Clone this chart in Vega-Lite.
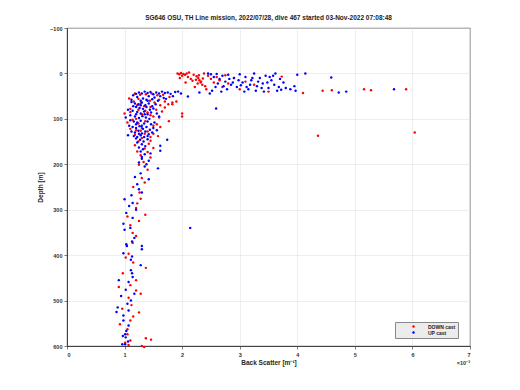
{
"$schema": "https://vega.github.io/schema/vega-lite/v6.json",
"width": 403, "height": 318,
"autosize": "none",
"padding": {"left": 67, "top": 28, "right": 50, "bottom": 44},
"background": "white",
"title": {"text": "SG646 OSU, TH Line mission, 2022/07/28, dive 467 started 03-Nov-2022 07:08:48", "font": "Liberation Sans", "fontSize": 6.5, "fontWeight": "bold", "color": "#222222", "anchor": "middle", "offset": 5},
"config": {
  "view": {"stroke": "#262626", "strokeWidth": 0.8},
  "axis": {"grid": true, "gridColor": "#e3e3e3", "gridWidth": 0.6, "domainColor": "#262626", "domainWidth": 0.8, "tickColor": "#262626", "tickWidth": 0.6, "tickSize": 3, "labelFont": "Liberation Sans", "labelFontSize": 5.5, "labelFontWeight": "bold", "labelColor": "#333333", "titleFont": "Liberation Sans", "titleFontSize": 6.5, "titleFontWeight": "bold", "titleColor": "#262626"}
},
"layer": [
{
"data": {"values": [
{"bs":1.92,"depth":0,"cast":"DOWN cast"},{"bs":1.95,"depth":2,"cast":"DOWN cast"},{"bs":1.98,"depth":-1,"cast":"DOWN cast"},{"bs":2.02,"depth":1,"cast":"DOWN cast"},{"bs":2.05,"depth":3,"cast":"DOWN cast"},{"bs":2.08,"depth":0,"cast":"DOWN cast"},{"bs":2.0,"depth":5,"cast":"DOWN cast"},{"bs":2.1,"depth":8,"cast":"DOWN cast"},{"bs":2.15,"depth":12,"cast":"DOWN cast"},{"bs":2.2,"depth":3,"cast":"DOWN cast"},{"bs":2.25,"depth":6,"cast":"DOWN cast"},{"bs":2.28,"depth":10,"cast":"DOWN cast"},{"bs":2.3,"depth":15,"cast":"DOWN cast"},{"bs":2.32,"depth":20,"cast":"DOWN cast"},{"bs":2.35,"depth":25,"cast":"DOWN cast"},{"bs":2.27,"depth":22,"cast":"DOWN cast"},{"bs":2.33,"depth":18,"cast":"DOWN cast"},{"bs":2.4,"depth":28,"cast":"DOWN cast"},{"bs":2.22,"depth":30,"cast":"DOWN cast"},{"bs":2.18,"depth":16,"cast":"DOWN cast"},{"bs":2.45,"depth":5,"cast":"DOWN cast"},{"bs":2.5,"depth":12,"cast":"DOWN cast"},{"bs":2.55,"depth":20,"cast":"DOWN cast"},{"bs":2.6,"depth":8,"cast":"DOWN cast"},{"bs":2.65,"depth":15,"cast":"DOWN cast"},{"bs":2.7,"depth":30,"cast":"DOWN cast"},{"bs":2.75,"depth":4,"cast":"DOWN cast"},{"bs":2.8,"depth":22,"cast":"DOWN cast"},{"bs":2.9,"depth":10,"cast":"DOWN cast"},{"bs":3.0,"depth":35,"cast":"DOWN cast"},{"bs":3.1,"depth":18,"cast":"DOWN cast"},{"bs":3.25,"depth":25,"cast":"DOWN cast"},{"bs":3.5,"depth":40,"cast":"DOWN cast"},{"bs":3.73,"depth":7,"cast":"DOWN cast"},{"bs":4.1,"depth":43,"cast":"DOWN cast"},{"bs":4.44,"depth":38,"cast":"DOWN cast"},{"bs":4.6,"depth":37,"cast":"DOWN cast"},{"bs":5.16,"depth":35,"cast":"DOWN cast"},{"bs":5.28,"depth":37,"cast":"DOWN cast"},{"bs":5.89,"depth":35,"cast":"DOWN cast"},{"bs":2.12,"depth":-2,"cast":"DOWN cast"},{"bs":2.06,"depth":20,"cast":"DOWN cast"},{"bs":2.38,"depth":0,"cast":"DOWN cast"},{"bs":2.42,"depth":35,"cast":"DOWN cast"},{"bs":2.24,"depth":14,"cast":"DOWN cast"},{"bs":2.29,"depth":4,"cast":"DOWN cast"},{"bs":2.36,"depth":11,"cast":"DOWN cast"},{"bs":1.96,"depth":10,"cast":"DOWN cast"},
{"bs":4.36,"depth":137,"cast":"DOWN cast"},{"bs":6.04,"depth":130,"cast":"DOWN cast"},{"bs":2.0,"depth":88,"cast":"DOWN cast"},{"bs":2.0,"depth":95,"cast":"DOWN cast"},{"bs":1.83,"depth":64,"cast":"DOWN cast"},{"bs":1.83,"depth":68,"cast":"DOWN cast"},
{"bs":1.18,"depth":44,"cast":"DOWN cast"},{"bs":1.27,"depth":47,"cast":"DOWN cast"},{"bs":1.37,"depth":46,"cast":"DOWN cast"},{"bs":1.47,"depth":44,"cast":"DOWN cast"},{"bs":1.57,"depth":48,"cast":"DOWN cast"},{"bs":1.67,"depth":47,"cast":"DOWN cast"},{"bs":1.78,"depth":52,"cast":"DOWN cast"},{"bs":1.24,"depth":56,"cast":"DOWN cast"},{"bs":1.44,"depth":60,"cast":"DOWN cast"},{"bs":1.6,"depth":58,"cast":"DOWN cast"},{"bs":1.7,"depth":62,"cast":"DOWN cast"},{"bs":1.08,"depth":55,"cast":"DOWN cast"},{"bs":1.76,"depth":68,"cast":"DOWN cast"},{"bs":1.9,"depth":62,"cast":"DOWN cast"},
{"bs":1.16,"depth":62,"cast":"DOWN cast"},{"bs":1.22,"depth":70,"cast":"DOWN cast"},{"bs":1.34,"depth":72,"cast":"DOWN cast"},{"bs":1.45,"depth":74,"cast":"DOWN cast"},{"bs":1.52,"depth":64,"cast":"DOWN cast"},{"bs":1.62,"depth":70,"cast":"DOWN cast"},{"bs":1.1,"depth":78,"cast":"DOWN cast"},{"bs":1.24,"depth":80,"cast":"DOWN cast"},{"bs":1.36,"depth":82,"cast":"DOWN cast"},{"bs":1.6,"depth":97,"cast":"DOWN cast"},{"bs":1.55,"depth":80,"cast":"DOWN cast"},{"bs":1.1,"depth":85,"cast":"DOWN cast"},{"bs":1.3,"depth":90,"cast":"DOWN cast"},{"bs":1.45,"depth":92,"cast":"DOWN cast"},{"bs":1.0,"depth":88,"cast":"DOWN cast"},{"bs":1.2,"depth":100,"cast":"DOWN cast"},{"bs":1.65,"depth":84,"cast":"DOWN cast"},{"bs":1.77,"depth":105,"cast":"DOWN cast"},{"bs":1.7,"depth":75,"cast":"DOWN cast"},{"bs":1.5,"depth":95,"cast":"DOWN cast"},{"bs":1.28,"depth":66,"cast":"DOWN cast"},{"bs":1.4,"depth":86,"cast":"DOWN cast"},
{"bs":1.14,"depth":102,"cast":"DOWN cast"},{"bs":1.24,"depth":110,"cast":"DOWN cast"},{"bs":1.36,"depth":105,"cast":"DOWN cast"},{"bs":1.5,"depth":115,"cast":"DOWN cast"},{"bs":1.56,"depth":112,"cast":"DOWN cast"},{"bs":1.1,"depth":122,"cast":"DOWN cast"},{"bs":1.2,"depth":125,"cast":"DOWN cast"},{"bs":1.3,"depth":120,"cast":"DOWN cast"},{"bs":1.4,"depth":128,"cast":"DOWN cast"},{"bs":1.5,"depth":133,"cast":"DOWN cast"},{"bs":1.58,"depth":138,"cast":"DOWN cast"},{"bs":1.18,"depth":135,"cast":"DOWN cast"},{"bs":1.35,"depth":133,"cast":"DOWN cast"},{"bs":1.45,"depth":140,"cast":"DOWN cast"},{"bs":1.05,"depth":108,"cast":"DOWN cast"},{"bs":1.62,"depth":118,"cast":"DOWN cast"},{"bs":1.28,"depth":126,"cast":"DOWN cast"},
{"bs":1.3,"depth":142,"cast":"DOWN cast"},{"bs":1.45,"depth":148,"cast":"DOWN cast"},{"bs":1.24,"depth":150,"cast":"DOWN cast"},{"bs":1.42,"depth":155,"cast":"DOWN cast"},{"bs":1.18,"depth":158,"cast":"DOWN cast"},{"bs":1.35,"depth":165,"cast":"DOWN cast"},{"bs":1.4,"depth":173,"cast":"DOWN cast"},{"bs":1.28,"depth":180,"cast":"DOWN cast"},{"bs":1.45,"depth":185,"cast":"DOWN cast"},{"bs":1.33,"depth":195,"cast":"DOWN cast"},{"bs":1.22,"depth":172,"cast":"DOWN cast"},{"bs":1.5,"depth":164,"cast":"DOWN cast"},
{"bs":1.25,"depth":201,"cast":"DOWN cast"},{"bs":1.35,"depth":240,"cast":"DOWN cast"},{"bs":1.26,"depth":262,"cast":"DOWN cast"},{"bs":1.28,"depth":276,"cast":"DOWN cast"},{"bs":1.2,"depth":296,"cast":"DOWN cast"},{"bs":1.36,"depth":311,"cast":"DOWN cast"},{"bs":1.25,"depth":325,"cast":"DOWN cast"},{"bs":1.1,"depth":334,"cast":"DOWN cast"},{"bs":1.14,"depth":351,"cast":"DOWN cast"},{"bs":1.2,"depth":358,"cast":"DOWN cast"},{"bs":1.14,"depth":373,"cast":"DOWN cast"},{"bs":1.4,"depth":212,"cast":"DOWN cast"},{"bs":1.3,"depth":230,"cast":"DOWN cast"},{"bs":1.15,"depth":250,"cast":"DOWN cast"},{"bs":1.22,"depth":286,"cast":"DOWN cast"},{"bs":1.05,"depth":315,"cast":"DOWN cast"},
{"bs":1.07,"depth":397,"cast":"DOWN cast"},{"bs":1.15,"depth":416,"cast":"DOWN cast"},{"bs":1.37,"depth":428,"cast":"DOWN cast"},{"bs":0.97,"depth":440,"cast":"DOWN cast"},{"bs":1.2,"depth":455,"cast":"DOWN cast"},{"bs":1.1,"depth":466,"cast":"DOWN cast"},{"bs":1.2,"depth":478,"cast":"DOWN cast"},{"bs":1.28,"depth":485,"cast":"DOWN cast"},{"bs":1.07,"depth":494,"cast":"DOWN cast"},{"bs":0.96,"depth":518,"cast":"DOWN cast"},{"bs":1.25,"depth":526,"cast":"DOWN cast"},{"bs":1.15,"depth":535,"cast":"DOWN cast"},{"bs":1.1,"depth":544,"cast":"DOWN cast"},{"bs":1.05,"depth":563,"cast":"DOWN cast"},{"bs":1.05,"depth":574,"cast":"DOWN cast"},{"bs":1.46,"depth":586,"cast":"DOWN cast"},{"bs":1.1,"depth":588,"cast":"DOWN cast"},{"bs":1.07,"depth":598,"cast":"DOWN cast"},{"bs":1.34,"depth":602,"cast":"DOWN cast"},{"bs":1.01,"depth":593,"cast":"DOWN cast"},{"bs":1.3,"depth":600,"cast":"DOWN cast"},{"bs":1.37,"depth":583,"cast":"DOWN cast"},{"bs":1.02,"depth":405,"cast":"DOWN cast"},{"bs":0.9,"depth":470,"cast":"DOWN cast"},{"bs":1.12,"depth":510,"cast":"DOWN cast"},{"bs":0.92,"depth":552,"cast":"DOWN cast"},
{"bs":2.45,"depth":0,"cast":"UP cast"},{"bs":2.5,"depth":2,"cast":"UP cast"},{"bs":2.55,"depth":8,"cast":"UP cast"},{"bs":2.6,"depth":1,"cast":"UP cast"},{"bs":2.65,"depth":12,"cast":"UP cast"},{"bs":2.7,"depth":5,"cast":"UP cast"},{"bs":2.75,"depth":18,"cast":"UP cast"},{"bs":2.8,"depth":3,"cast":"UP cast"},{"bs":2.85,"depth":25,"cast":"UP cast"},{"bs":2.9,"depth":10,"cast":"UP cast"},{"bs":2.95,"depth":30,"cast":"UP cast"},{"bs":3.0,"depth":2,"cast":"UP cast"},{"bs":3.05,"depth":20,"cast":"UP cast"},{"bs":3.1,"depth":8,"cast":"UP cast"},{"bs":3.15,"depth":35,"cast":"UP cast"},{"bs":3.2,"depth":15,"cast":"UP cast"},{"bs":3.25,"depth":0,"cast":"UP cast"},{"bs":3.3,"depth":28,"cast":"UP cast"},{"bs":3.35,"depth":10,"cast":"UP cast"},{"bs":3.4,"depth":22,"cast":"UP cast"},{"bs":3.45,"depth":5,"cast":"UP cast"},{"bs":3.5,"depth":32,"cast":"UP cast"},{"bs":3.55,"depth":15,"cast":"UP cast"},{"bs":3.6,"depth":25,"cast":"UP cast"},{"bs":3.65,"depth":38,"cast":"UP cast"},{"bs":3.7,"depth":12,"cast":"UP cast"},{"bs":3.76,"depth":20,"cast":"UP cast"},{"bs":3.8,"depth":32,"cast":"UP cast"},{"bs":3.95,"depth":28,"cast":"UP cast"},{"bs":3.97,"depth":38,"cast":"UP cast"},{"bs":4.0,"depth":3,"cast":"UP cast"},{"bs":4.14,"depth":0,"cast":"UP cast"},{"bs":4.59,"depth":9,"cast":"UP cast"},{"bs":4.72,"depth":42,"cast":"UP cast"},{"bs":4.85,"depth":40,"cast":"UP cast"},{"bs":5.68,"depth":35,"cast":"UP cast"},{"bs":2.52,"depth":38,"cast":"UP cast"},{"bs":2.58,"depth":30,"cast":"UP cast"},{"bs":2.68,"depth":40,"cast":"UP cast"},{"bs":2.78,"depth":35,"cast":"UP cast"},{"bs":2.88,"depth":20,"cast":"UP cast"},{"bs":2.98,"depth":15,"cast":"UP cast"},{"bs":3.08,"depth":40,"cast":"UP cast"},{"bs":3.18,"depth":25,"cast":"UP cast"},{"bs":3.28,"depth":38,"cast":"UP cast"},{"bs":3.38,"depth":32,"cast":"UP cast"},{"bs":3.48,"depth":20,"cast":"UP cast"},{"bs":3.58,"depth":5,"cast":"UP cast"},{"bs":3.68,"depth":30,"cast":"UP cast"},{"bs":3.12,"depth":30,"cast":"UP cast"},{"bs":3.22,"depth":10,"cast":"UP cast"},{"bs":3.42,"depth":40,"cast":"UP cast"},{"bs":3.62,"depth":0,"cast":"UP cast"},{"bs":2.72,"depth":28,"cast":"UP cast"},{"bs":2.62,"depth":22,"cast":"UP cast"},{"bs":2.82,"depth":12,"cast":"UP cast"},{"bs":3.02,"depth":26,"cast":"UP cast"},{"bs":3.32,"depth":18,"cast":"UP cast"},{"bs":3.52,"depth":8,"cast":"UP cast"},{"bs":3.72,"depth":36,"cast":"UP cast"},{"bs":3.88,"depth":35,"cast":"UP cast"},{"bs":2.59,"depth":77,"cast":"UP cast"},{"bs":2.1,"depth":51,"cast":"UP cast"},{"bs":2.48,"depth":44,"cast":"UP cast"},{"bs":2.3,"depth":42,"cast":"UP cast"},{"bs":2.14,"depth":340,"cast":"UP cast"},
{"bs":1.15,"depth":48,"cast":"UP cast"},{"bs":1.2,"depth":45,"cast":"UP cast"},{"bs":1.25,"depth":42,"cast":"UP cast"},{"bs":1.3,"depth":44,"cast":"UP cast"},{"bs":1.35,"depth":40,"cast":"UP cast"},{"bs":1.4,"depth":43,"cast":"UP cast"},{"bs":1.45,"depth":41,"cast":"UP cast"},{"bs":1.5,"depth":46,"cast":"UP cast"},{"bs":1.55,"depth":42,"cast":"UP cast"},{"bs":1.6,"depth":44,"cast":"UP cast"},{"bs":1.65,"depth":40,"cast":"UP cast"},{"bs":1.7,"depth":43,"cast":"UP cast"},{"bs":1.75,"depth":42,"cast":"UP cast"},{"bs":1.8,"depth":45,"cast":"UP cast"},{"bs":1.88,"depth":41,"cast":"UP cast"},{"bs":1.93,"depth":40,"cast":"UP cast"},{"bs":1.98,"depth":44,"cast":"UP cast"},{"bs":1.22,"depth":52,"cast":"UP cast"},{"bs":1.32,"depth":55,"cast":"UP cast"},{"bs":1.42,"depth":50,"cast":"UP cast"},{"bs":1.52,"depth":53,"cast":"UP cast"},{"bs":1.62,"depth":50,"cast":"UP cast"},{"bs":1.72,"depth":56,"cast":"UP cast"},{"bs":1.12,"depth":58,"cast":"UP cast"},{"bs":1.28,"depth":60,"cast":"UP cast"},{"bs":1.38,"depth":58,"cast":"UP cast"},{"bs":1.48,"depth":57,"cast":"UP cast"},{"bs":1.58,"depth":60,"cast":"UP cast"},{"bs":1.68,"depth":54,"cast":"UP cast"},{"bs":1.84,"depth":50,"cast":"UP cast"},
{"bs":1.12,"depth":63,"cast":"UP cast"},{"bs":1.18,"depth":66,"cast":"UP cast"},{"bs":1.24,"depth":68,"cast":"UP cast"},{"bs":1.3,"depth":64,"cast":"UP cast"},{"bs":1.36,"depth":70,"cast":"UP cast"},{"bs":1.42,"depth":66,"cast":"UP cast"},{"bs":1.48,"depth":72,"cast":"UP cast"},{"bs":1.54,"depth":68,"cast":"UP cast"},{"bs":1.2,"depth":74,"cast":"UP cast"},{"bs":1.26,"depth":76,"cast":"UP cast"},{"bs":1.32,"depth":78,"cast":"UP cast"},{"bs":1.38,"depth":74,"cast":"UP cast"},{"bs":1.44,"depth":80,"cast":"UP cast"},{"bs":1.5,"depth":77,"cast":"UP cast"},{"bs":1.06,"depth":80,"cast":"UP cast"},{"bs":1.14,"depth":82,"cast":"UP cast"},{"bs":1.22,"depth":85,"cast":"UP cast"},{"bs":1.28,"depth":88,"cast":"UP cast"},{"bs":1.34,"depth":84,"cast":"UP cast"},{"bs":1.4,"depth":90,"cast":"UP cast"},{"bs":1.46,"depth":86,"cast":"UP cast"},{"bs":1.56,"depth":88,"cast":"UP cast"},{"bs":1.1,"depth":92,"cast":"UP cast"},{"bs":1.18,"depth":95,"cast":"UP cast"},{"bs":1.25,"depth":98,"cast":"UP cast"},{"bs":1.31,"depth":94,"cast":"UP cast"},{"bs":1.37,"depth":97,"cast":"UP cast"},{"bs":1.43,"depth":100,"cast":"UP cast"},{"bs":1.6,"depth":95,"cast":"UP cast"},{"bs":1.02,"depth":97,"cast":"UP cast"},{"bs":1.15,"depth":72,"cast":"UP cast"},{"bs":1.4,"depth":60,"cast":"UP cast"},{"bs":1.28,"depth":70,"cast":"UP cast"},{"bs":1.35,"depth":90,"cast":"UP cast"},{"bs":1.2,"depth":90,"cast":"UP cast"},
{"bs":1.1,"depth":103,"cast":"UP cast"},{"bs":1.16,"depth":106,"cast":"UP cast"},{"bs":1.22,"depth":108,"cast":"UP cast"},{"bs":1.28,"depth":104,"cast":"UP cast"},{"bs":1.34,"depth":110,"cast":"UP cast"},{"bs":1.4,"depth":106,"cast":"UP cast"},{"bs":1.46,"depth":112,"cast":"UP cast"},{"bs":1.52,"depth":108,"cast":"UP cast"},{"bs":1.08,"depth":115,"cast":"UP cast"},{"bs":1.14,"depth":118,"cast":"UP cast"},{"bs":1.2,"depth":120,"cast":"UP cast"},{"bs":1.26,"depth":116,"cast":"UP cast"},{"bs":1.32,"depth":122,"cast":"UP cast"},{"bs":1.38,"depth":118,"cast":"UP cast"},{"bs":1.44,"depth":124,"cast":"UP cast"},{"bs":1.5,"depth":120,"cast":"UP cast"},{"bs":1.12,"depth":128,"cast":"UP cast"},{"bs":1.18,"depth":130,"cast":"UP cast"},{"bs":1.24,"depth":126,"cast":"UP cast"},{"bs":1.3,"depth":132,"cast":"UP cast"},{"bs":1.36,"depth":128,"cast":"UP cast"},{"bs":1.42,"depth":134,"cast":"UP cast"},{"bs":1.48,"depth":130,"cast":"UP cast"},{"bs":1.06,"depth":136,"cast":"UP cast"},{"bs":1.16,"depth":138,"cast":"UP cast"},{"bs":1.22,"depth":140,"cast":"UP cast"},{"bs":1.28,"depth":136,"cast":"UP cast"},{"bs":1.34,"depth":140,"cast":"UP cast"},{"bs":1.4,"depth":138,"cast":"UP cast"},{"bs":1.56,"depth":125,"cast":"UP cast"},{"bs":1.2,"depth":112,"cast":"UP cast"},{"bs":1.3,"depth":115,"cast":"UP cast"},{"bs":1.25,"depth":133,"cast":"UP cast"},
{"bs":1.2,"depth":143,"cast":"UP cast"},{"bs":1.27,"depth":146,"cast":"UP cast"},{"bs":1.33,"depth":150,"cast":"UP cast"},{"bs":1.4,"depth":145,"cast":"UP cast"},{"bs":1.74,"depth":146,"cast":"UP cast"},{"bs":1.22,"depth":152,"cast":"UP cast"},{"bs":1.3,"depth":156,"cast":"UP cast"},{"bs":1.36,"depth":160,"cast":"UP cast"},{"bs":1.62,"depth":159,"cast":"UP cast"},{"bs":1.25,"depth":163,"cast":"UP cast"},{"bs":1.32,"depth":167,"cast":"UP cast"},{"bs":1.28,"depth":172,"cast":"UP cast"},{"bs":1.62,"depth":170,"cast":"UP cast"},{"bs":1.35,"depth":178,"cast":"UP cast"},{"bs":1.3,"depth":184,"cast":"UP cast"},{"bs":1.3,"depth":188,"cast":"UP cast"},{"bs":1.42,"depth":192,"cast":"UP cast"},{"bs":1.25,"depth":196,"cast":"UP cast"},{"bs":1.38,"depth":200,"cast":"UP cast"},{"bs":1.45,"depth":176,"cast":"UP cast"},
{"bs":1.58,"depth":209,"cast":"UP cast"},{"bs":1.28,"depth":220,"cast":"UP cast"},{"bs":1.42,"depth":233,"cast":"UP cast"},{"bs":1.22,"depth":244,"cast":"UP cast"},{"bs":1.3,"depth":262,"cast":"UP cast"},{"bs":1.0,"depth":277,"cast":"UP cast"},{"bs":1.14,"depth":285,"cast":"UP cast"},{"bs":1.2,"depth":300,"cast":"UP cast"},{"bs":1.03,"depth":307,"cast":"UP cast"},{"bs":1.14,"depth":318,"cast":"UP cast"},{"bs":0.98,"depth":331,"cast":"UP cast"},{"bs":1.0,"depth":344,"cast":"UP cast"},{"bs":1.17,"depth":362,"cast":"UP cast"},{"bs":1.03,"depth":376,"cast":"UP cast"},{"bs":1.3,"depth":380,"cast":"UP cast"},{"bs":1.35,"depth":205,"cast":"UP cast"},{"bs":1.18,"depth":228,"cast":"UP cast"},{"bs":1.25,"depth":255,"cast":"UP cast"},{"bs":1.12,"depth":268,"cast":"UP cast"},{"bs":1.08,"depth":292,"cast":"UP cast"},{"bs":1.1,"depth":340,"cast":"UP cast"},
{"bs":1.04,"depth":380,"cast":"UP cast"},{"bs":1.13,"depth":370,"cast":"UP cast"},{"bs":1.3,"depth":387,"cast":"UP cast"},{"bs":0.98,"depth":396,"cast":"UP cast"},{"bs":1.13,"depth":403,"cast":"UP cast"},{"bs":1.11,"depth":410,"cast":"UP cast"},{"bs":1.28,"depth":422,"cast":"UP cast"},{"bs":1.11,"depth":433,"cast":"UP cast"},{"bs":1.13,"depth":440,"cast":"UP cast"},{"bs":1.14,"depth":448,"cast":"UP cast"},{"bs":1.07,"depth":459,"cast":"UP cast"},{"bs":1.02,"depth":476,"cast":"UP cast"},{"bs":1.17,"depth":485,"cast":"UP cast"},{"bs":1.11,"depth":500,"cast":"UP cast"},{"bs":1.05,"depth":507,"cast":"UP cast"},{"bs":1.07,"depth":522,"cast":"UP cast"},{"bs":0.98,"depth":533,"cast":"UP cast"},{"bs":0.98,"depth":544,"cast":"UP cast"},{"bs":1.07,"depth":555,"cast":"UP cast"},{"bs":1.03,"depth":567,"cast":"UP cast"},{"bs":1.01,"depth":574,"cast":"UP cast"},{"bs":1.02,"depth":581,"cast":"UP cast"},{"bs":1.06,"depth":590,"cast":"UP cast"},{"bs":1.01,"depth":596,"cast":"UP cast"},{"bs":0.96,"depth":596,"cast":"UP cast"},{"bs":0.97,"depth":578,"cast":"UP cast"},{"bs":0.88,"depth":515,"cast":"UP cast"},{"bs":0.86,"depth":525,"cast":"UP cast"},{"bs":0.9,"depth":455,"cast":"UP cast"},{"bs":0.94,"depth":490,"cast":"UP cast"}
]},
"mark": {"type": "point", "filled": true, "shape": "circle", "size": 6, "opacity": 1},
"encoding": {
  "x": {"field": "bs", "type": "quantitative", "scale": {"domain": [0, 7], "nice": false, "zero": false}, "axis": {"values": [0,1,2,3,4,5,6,7], "format": "d", "title": "Back Scatter [m⁻¹]", "labelPadding": 3, "titlePadding": 2}},
  "y": {"field": "depth", "type": "quantitative", "scale": {"domain": [-100, 600], "reverse": true, "nice": false, "zero": false}, "axis": {"values": [-100,0,100,200,300,400,500,600], "format": "d", "title": "Depth [m]", "labelPadding": 2, "titlePadding": 6}},
  "color": {"field": "cast", "type": "nominal", "scale": {"domain": ["DOWN cast", "UP cast"], "range": ["#ff0000", "#0000ff"]}, "legend": {"title": null, "orient": "none", "legendX": 328, "legendY": 294, "fillColor": "#ececec", "strokeColor": "#888888", "padding": 2, "symbolSize": 6, "symbolOffset": 14, "labelOffset": 12, "labelFont": "Liberation Sans", "labelFontSize": 5, "labelFontWeight": "bold", "labelColor": "#222222", "rowPadding": 0, "labelExpr": "datum.label + '\u00a0\u00a0\u00a0\u00a0\u00a0\u00a0\u00a0\u00a0'"}}
}
},
{
"data": {"values": [{"note": "exponent"}]},
"mark": {"type": "text", "text": "×10⁻³", "align": "right", "baseline": "middle", "dy": 17, "font": "Liberation Sans", "fontSize": 5.5, "fontWeight": "bold", "color": "#333333"},
"encoding": {"x": {"datum": 7}, "y": {"datum": 600}}
}
]
}
